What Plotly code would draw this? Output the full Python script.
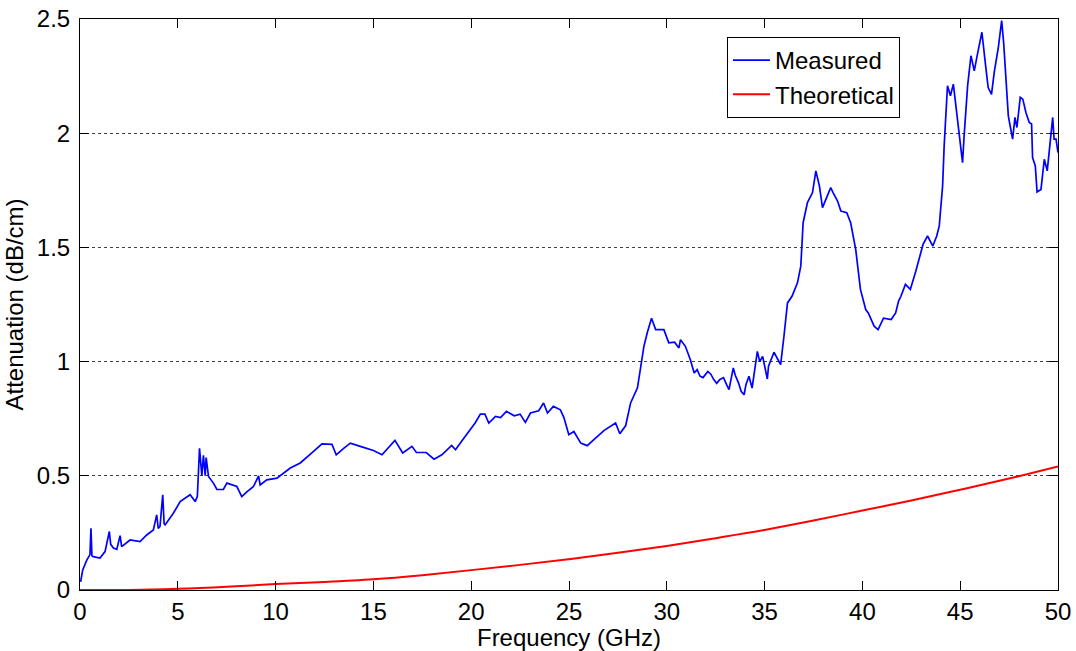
import plotly.graph_objects as go

# Measured attenuation of the line (dB/cm) against frequency (GHz)
freq_measured = [
    0.03, 0.14, 0.34, 0.51, 0.56, 0.61, 0.68, 1.02, 1.28, 1.5, 1.57, 1.71, 1.88,
    2.05, 2.13, 2.22, 2.56, 3.07, 3.41, 3.75, 3.92, 4.0, 4.09, 4.23, 4.3, 4.35,
    4.78, 5.12, 5.63, 5.89, 6.0, 6.11, 6.23, 6.31, 6.4, 6.45, 6.57, 6.82, 7.0,
    7.33, 7.51, 8.02, 8.27, 8.53, 8.87, 9.13, 9.21, 9.55, 10.07, 10.75, 11.26,
    11.94, 12.37, 12.88, 13.1, 13.48, 13.82, 14.33, 15.0, 15.44, 16.1, 16.5,
    16.97, 17.2, 17.7, 18.1, 18.5, 19.0, 19.2, 19.5, 19.96, 20.2, 20.47, 20.7,
    20.9, 21.24, 21.5, 21.8, 22.2, 22.5, 22.77, 23.03, 23.45, 23.7, 23.9, 24.2,
    24.56, 24.74, 24.99, 25.25, 25.6, 25.93, 26.27, 26.8, 27.38, 27.6, 27.9,
    28.15, 28.5, 28.66, 28.83, 29.0, 29.22, 29.43, 29.85, 30.1, 30.4, 30.62,
    30.7, 30.95, 31.2, 31.4, 31.55, 31.7, 31.85, 32.1, 32.25, 32.4, 32.55, 32.7,
    32.9, 33.05, 33.18, 33.3, 33.4, 33.5, 33.67, 33.8, 33.95, 34.05, 34.2,
    34.36, 34.5, 34.63, 34.75, 34.9, 35.14, 35.2, 35.48, 35.82, 35.99, 36.17,
    36.4, 36.68, 36.85, 36.97, 37.19, 37.45, 37.62, 37.8, 37.96, 38.2, 38.38,
    38.5, 38.73, 38.9, 39.2, 39.4, 39.66, 39.9, 40.17, 40.3, 40.6, 40.8, 41.08,
    41.47, 41.7, 41.85, 41.97, 42.2, 42.45, 42.73, 42.99, 43.1, 43.33, 43.6,
    43.8, 43.93, 44.1, 44.18, 44.35, 44.5, 44.65, 44.78, 44.95, 45.12, 45.2,
    45.38, 45.55, 45.72, 45.9, 46.11, 46.3, 46.43, 46.6, 46.74, 46.95, 47.12,
    47.22, 47.34, 47.46, 47.57, 47.68, 47.8, 47.9, 48.07, 48.2, 48.36, 48.53,
    48.65, 48.7, 48.84, 48.93, 49.13, 49.3, 49.45, 49.57, 49.73, 49.8, 49.9,
    50.0,
]
atten_measured = [
    0.036, 0.088, 0.13, 0.155, 0.27, 0.15, 0.146, 0.14, 0.168, 0.256, 0.2, 0.184,
    0.178, 0.238, 0.19, 0.197, 0.219, 0.212, 0.241, 0.263, 0.329, 0.27, 0.278,
    0.417, 0.29, 0.285, 0.337, 0.387, 0.417, 0.387, 0.41, 0.62, 0.5, 0.59, 0.5,
    0.58, 0.497, 0.468, 0.44, 0.44, 0.468, 0.453, 0.409, 0.43, 0.453, 0.5, 0.46,
    0.482, 0.49, 0.534, 0.556, 0.607, 0.64, 0.638, 0.592, 0.62, 0.643, 0.629,
    0.611, 0.592, 0.655, 0.6, 0.629, 0.602, 0.602, 0.573, 0.592, 0.633, 0.614,
    0.65, 0.702, 0.731, 0.77, 0.77, 0.731, 0.76, 0.755, 0.782, 0.763, 0.77,
    0.734, 0.775, 0.785, 0.819, 0.775, 0.804, 0.789, 0.755, 0.68, 0.694, 0.643,
    0.632, 0.658, 0.699, 0.731, 0.684, 0.72, 0.819, 0.885, 0.965, 1.067, 1.126,
    1.19, 1.14, 1.14, 1.082, 1.085, 1.06, 1.096, 1.067, 1.009, 0.95, 0.965,
    0.936, 0.93, 0.957, 0.945, 0.921, 0.905, 0.921, 0.93, 0.9, 0.877, 0.93,
    0.972, 0.94, 0.906, 0.87, 0.855, 0.9, 0.936, 0.884, 0.96, 1.045, 1.0, 1.023,
    0.924, 0.98, 1.041, 0.987, 1.111, 1.257, 1.286, 1.345, 1.418, 1.608, 1.696,
    1.74, 1.835, 1.77, 1.674, 1.725, 1.762, 1.74, 1.703, 1.659, 1.652, 1.608,
    1.49, 1.316, 1.228, 1.213, 1.155, 1.14, 1.19, 1.184, 1.213, 1.265, 1.286,
    1.338, 1.316, 1.396, 1.477, 1.513, 1.55, 1.506, 1.55, 1.594, 1.769, 1.944,
    2.208, 2.164, 2.215, 2.12, 1.974, 1.871, 1.988, 2.208, 2.339, 2.273, 2.354,
    2.442, 2.295, 2.2, 2.17, 2.266, 2.376, 2.493, 2.398, 2.222, 2.076, 2.025,
    1.974, 2.069, 2.025, 2.157, 2.149, 2.091, 2.047, 2.04, 1.893, 1.857, 1.743,
    1.754, 1.886, 1.835, 1.944, 2.069, 1.974, 1.974, 1.915,
]

# Theoretical attenuation (dB/cm)
freq_theory = [0, 2.5, 5, 7.5, 10, 12.5, 15, 17.5, 20, 22.5, 25, 27.5, 30,
               32.5, 35, 37.5, 40, 42.5, 45, 47.5, 50]
atten_theory = [0.0, 0.0, 0.005, 0.014, 0.026, 0.035, 0.047, 0.065, 0.087,
                0.11, 0.135, 0.163, 0.193, 0.227, 0.263, 0.304, 0.348, 0.392,
                0.439, 0.488, 0.541]

x_ticks = [0, 5, 10, 15, 20, 25, 30, 35, 40, 45, 50]
y_ticks = [0, 0.5, 1, 1.5, 2, 2.5]

FONT = "Arial, 'Liberation Sans', sans-serif"

fig = go.Figure()
fig.add_trace(go.Scatter(
    x=freq_measured, y=atten_measured, mode="lines", name="Measured",
    line=dict(color="#0000FF", width=1.7),
))
fig.add_trace(go.Scatter(
    x=freq_theory, y=atten_theory, mode="lines", name="Theoretical",
    line=dict(color="#FF0000", width=2, shape="spline"),
))

axis_common = dict(
    showline=True, linecolor="black", linewidth=1, mirror="ticks",
    ticks="inside", ticklen=9, tickcolor="black", tickwidth=1,
    tickfont=dict(family=FONT, size=24, color="black"),
    zeroline=False,
)

fig.update_xaxes(
    range=[0, 50], tickvals=x_ticks, showgrid=False,
    title=dict(text="Frequency (GHz)", font=dict(family=FONT, size=24, color="black"),
               standoff=3),
    ticklabelstandoff=0,
    **axis_common,
)
fig.update_yaxes(
    range=[0, 2.5], tickvals=y_ticks, showgrid=True, gridcolor="#404040",
    griddash="dot", gridwidth=1,
    title=dict(text="Attenuation (dB/cm)", font=dict(family=FONT, size=24, color="black"),
               standoff=6),
    ticklabelstandoff=4,
    **axis_common,
)

fig.update_layout(
    width=1076, height=651,
    margin=dict(l=80, r=18, t=19, b=61, autoexpand=False),
    paper_bgcolor="white", plot_bgcolor="white",
    showlegend=True,
    legend=dict(
        x=(727 - 80) / 978, y=(590 - 37) / 571, xanchor="left", yanchor="top",
        bgcolor="white", bordercolor="black", borderwidth=1,
        font=dict(family=FONT, size=24, color="black"),
        itemwidth=37, tracegroupgap=0,
    ),
)

fig.write_html("out.html")
